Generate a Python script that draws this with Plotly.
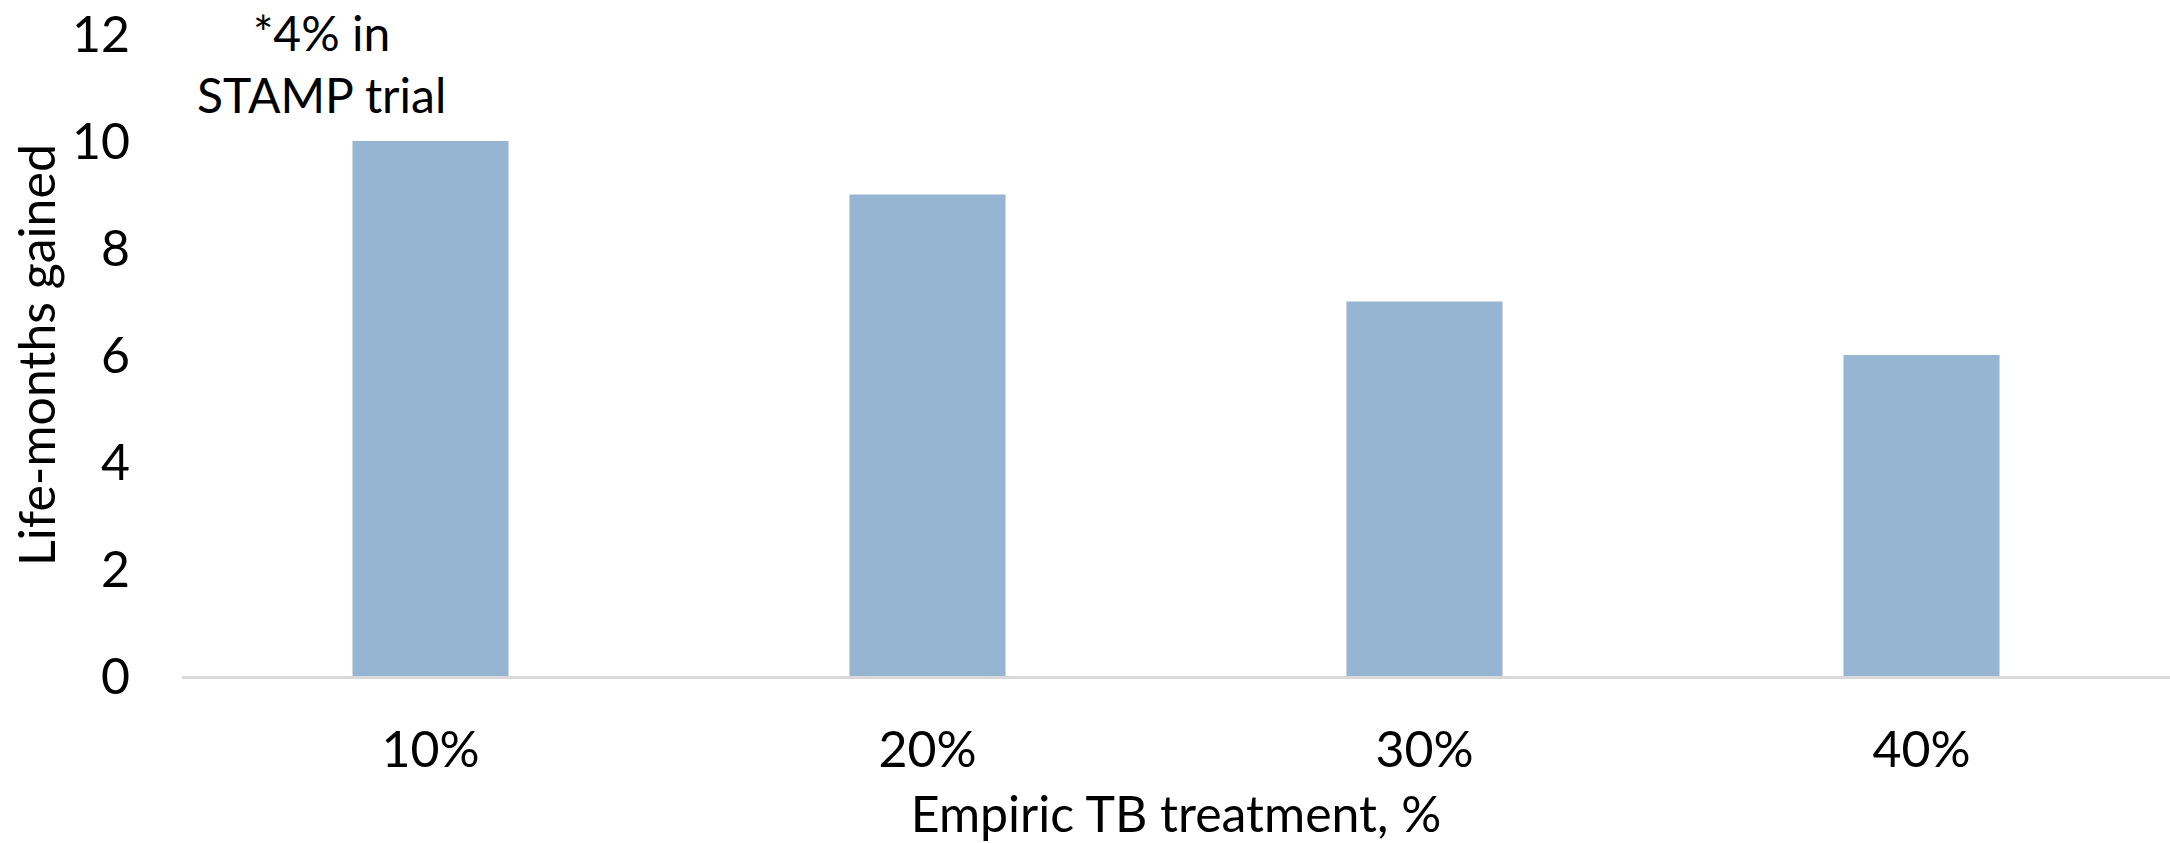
import plotly.graph_objects as go

categories = ["10%", "20%", "30%", "40%"]
life_months = [10, 9, 7, 6]
y_ticks = [0, 2, 4, 6, 8, 10, 12]

FONT = "Lato"
FS = 50
W, H = 2170, 843
L, T, B = 182, 34, 165

fig = go.Figure(go.Bar(x=categories, y=life_months, marker=dict(color="#95B5D3", line=dict(width=0))))

fig.update_layout(
    width=W, height=H,
    margin=dict(l=L, r=0, t=T, b=B),
    paper_bgcolor="white", plot_bgcolor="white",
    bargap=0.686,
    showlegend=False,
    font=dict(family=FONT, size=FS, color="black"),
)
fig.update_xaxes(
    showline=True, linecolor="#D9D9D9", linewidth=3,
    showgrid=False, ticks="outside", ticklen=28, tickcolor="rgba(0,0,0,0)",
    tickfont=dict(size=FS),
    title=dict(text="Empiric TB treatment, %", font=dict(size=FS), standoff=30),
)
fig.update_yaxes(
    range=[0, 12], tickvals=y_ticks, showgrid=False, zeroline=False, showline=False,
    ticks="outside", ticklen=41, tickcolor="rgba(0,0,0,0)",
    tickfont=dict(size=FS),
    title=dict(text="Life-months gained", font=dict(size=FS), standoff=0),
)
plot_h = H - T - B
fig.add_annotation(
    text="*4% in<br>STAMP trial", xref="paper", yref="paper",
    x=(321 - L) / (W - L), y=(678 - 64) / plot_h,
    showarrow=False, font=dict(size=48), align="center",
    xanchor="center", yanchor="middle", borderpad=0,
)
fig.write_html(
    "out.html",
    config={"displayModeBar": False},
    post_script="document.body.style.margin='0';",
)
